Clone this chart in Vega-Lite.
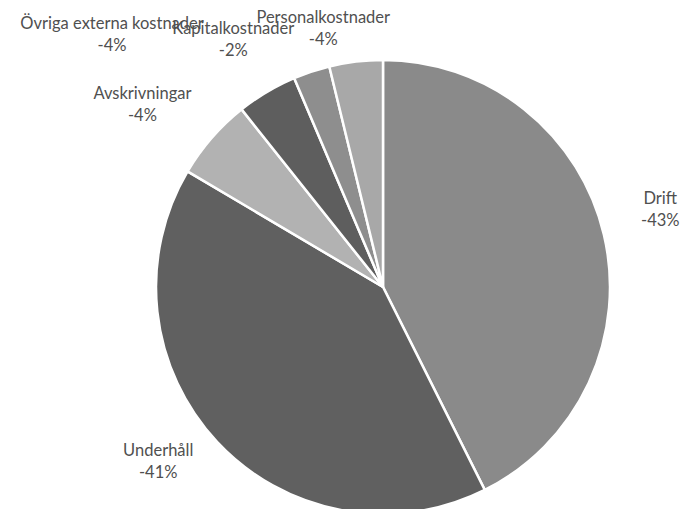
{
  "$schema": "https://vega.github.io/schema/vega-lite/v6.json",
  "width": 614,
  "height": 444,
  "autosize": "none",
  "padding": {"left": 76, "top": 65, "right": 0, "bottom": 0},
  "background": "white",
  "view": {"stroke": null},
  "data": {
    "values": [
      {"name": "Drift", "value": 42.6, "pct": "-43%", "order": 1},
      {"name": "Underhåll", "value": 40.9, "pct": "-41%", "order": 2},
      {"name": "Avskrivningar", "value": 5.8, "pct": "-4%", "order": 3},
      {"name": "Övriga externa kostnader", "value": 4.3, "pct": "-4%", "order": 4},
      {"name": "Kapitalkostnader", "value": 2.6, "pct": "-2%", "order": 5},
      {"name": "Personalkostnader", "value": 3.8, "pct": "-4%", "order": 6}
    ]
  },
  "transform": [
    {"stack": "value", "sort": [{"field": "order"}], "groupby": [], "as": ["v0", "v1"]},
    {"calculate": "(datum.v0 + datum.v1) / 2", "as": "mid"},
    {"calculate": "datum.name + '\\n' + datum.pct", "as": "label"}
  ],
  "layer": [
    {
      "mark": {"type": "arc", "outerRadius": 227, "stroke": "white", "strokeWidth": 2.5},
      "encoding": {
        "theta": {"field": "v0", "type": "quantitative", "stack": null, "scale": {"domain": [0, 100]}},
        "theta2": {"field": "v1"},
        "color": {
          "field": "name",
          "type": "nominal",
          "legend": null,
          "scale": {
            "domain": ["Drift", "Underhåll", "Avskrivningar", "Övriga externa kostnader", "Kapitalkostnader", "Personalkostnader"],
            "range": ["#8a8a8a", "#606060", "#b2b2b2", "#5e5e5e", "#8e8e8e", "#a8a8a8"]
          }
        }
      }
    },
    {
      "transform": [{"filter": "datum.name === 'Drift'"}],
      "mark": {"type": "text", "radius": 250, "dx": 34, "dy": -30, "lineBreak": "\n", "font": "Lato", "fontSize": 16.5, "lineHeight": 22, "fill": "#505050"},
      "encoding": {"theta": {"field": "mid", "type": "quantitative", "stack": null}, "text": {"field": "label"}}
    },
    {
      "transform": [{"filter": "datum.name === 'Underhåll'"}],
      "mark": {"type": "text", "radius": 250, "dx": -42, "dy": -7, "lineBreak": "\n", "font": "Lato", "fontSize": 16.5, "lineHeight": 22, "fill": "#505050"},
      "encoding": {"theta": {"field": "mid", "type": "quantitative", "stack": null}, "text": {"field": "label"}}
    },
    {
      "transform": [{"filter": "datum.name === 'Avskrivningar'"}],
      "mark": {"type": "text", "radius": 250, "dx": -52, "dy": -29, "lineBreak": "\n", "font": "Lato", "fontSize": 16.5, "lineHeight": 22, "fill": "#505050"},
      "encoding": {"theta": {"field": "mid", "type": "quantitative", "stack": null}, "text": {"field": "label"}}
    },
    {
      "transform": [{"filter": "datum.name === 'Övriga externa kostnader'"}],
      "mark": {"type": "text", "radius": 250, "dx": -143, "dy": -48, "lineBreak": "\n", "font": "Lato", "fontSize": 16.5, "lineHeight": 22, "fill": "#505050"},
      "encoding": {"theta": {"field": "mid", "type": "quantitative", "stack": null}, "text": {"field": "label"}}
    },
    {
      "transform": [{"filter": "datum.name === 'Kapitalkostnader'"}],
      "mark": {"type": "text", "radius": 250, "dx": -71, "dy": -21, "lineBreak": "\n", "font": "Lato", "fontSize": 16.5, "lineHeight": 22, "fill": "#505050"},
      "encoding": {"theta": {"field": "mid", "type": "quantitative", "stack": null}, "text": {"field": "label"}}
    },
    {
      "transform": [{"filter": "datum.name === 'Personalkostnader'"}],
      "mark": {"type": "text", "radius": 250, "dx": -30, "dy": -21, "lineBreak": "\n", "font": "Lato", "fontSize": 16.5, "lineHeight": 22, "fill": "#505050"},
      "encoding": {"theta": {"field": "mid", "type": "quantitative", "stack": null}, "text": {"field": "label"}}
    }
  ]
}
